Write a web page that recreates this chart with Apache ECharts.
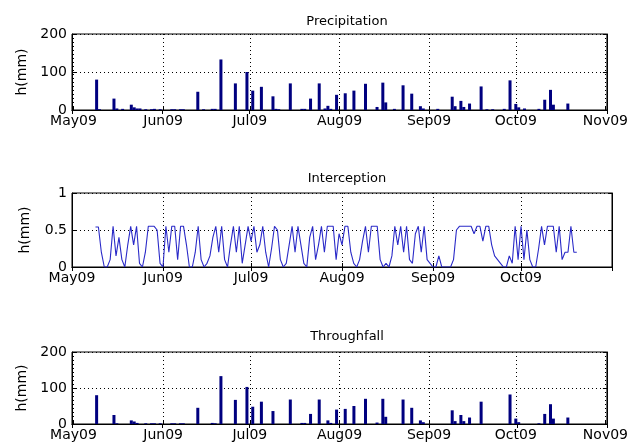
<!DOCTYPE html>
<html>
<head>
<meta charset="utf-8">
<script src="https://cdn.jsdelivr.net/npm/echarts@6/dist/echarts.min.js"></script>
<style>html,body{margin:0;padding:0;background:#fff}#c{width:631px;height:448px}</style>
</head>
<body>
<div id="c"></div>
<script>
// ---- data ----
const panelTitles = ['Precipitation', 'Interception', 'Throughfall'];
const yName = 'h(mm)';
const monthTickLabels = {4:'May09',5:'Jun09',6:'Jul09',7:'Aug09',8:'Sep09',9:'Oct09',10:'Nov09'};
const xMin = '2009-05-01';
const xMax = '2009-11-01';
const precipTicks = [0, 100, 200];
const interceptTicks = [0, 0.5, 1];

const precipDates = ['2009-05-09','2009-05-10','2009-05-15','2009-05-16','2009-05-18','2009-05-21','2009-05-22','2009-05-23','2009-05-24','2009-05-26','2009-05-28','2009-05-29','2009-05-31','2009-06-04','2009-06-05','2009-06-07','2009-06-08','2009-06-13','2009-06-15','2009-06-18','2009-06-19','2009-06-21','2009-06-26','2009-06-30','2009-07-02','2009-07-05','2009-07-09','2009-07-10','2009-07-11','2009-07-15','2009-07-19','2009-07-20','2009-07-22','2009-07-25','2009-07-27','2009-07-28','2009-07-29','2009-07-31','2009-08-03','2009-08-06','2009-08-10','2009-08-14','2009-08-16','2009-08-17','2009-08-20','2009-08-23','2009-08-26','2009-08-29','2009-08-30','2009-09-04','2009-09-09','2009-09-10','2009-09-12','2009-09-13','2009-09-15','2009-09-19','2009-09-21','2009-09-23','2009-09-27','2009-09-29','2009-10-01','2009-10-02','2009-10-04','2009-10-09','2009-10-11','2009-10-13','2009-10-14','2009-10-19'];
const precipValues = [80,2,30,4,3,14,7,4,4,2,2,3,2,2,2,2,2,48,2,3,3,133,70,100,51,61,36,3,2,70,3,3,30,70,4,11,3,40,44,51,69,8,72,20,3,65,43,10,4,3,35,10,24,8,17,62,2,2,3,78,16,7,4,3,27,53,14,17];

const throughDates = ['2009-05-09','2009-05-15','2009-05-16','2009-05-21','2009-05-22','2009-05-23','2009-05-26','2009-05-28','2009-05-29','2009-05-31','2009-06-04','2009-06-05','2009-06-07','2009-06-08','2009-06-13','2009-06-18','2009-06-19','2009-06-21','2009-06-26','2009-06-30','2009-07-02','2009-07-05','2009-07-09','2009-07-15','2009-07-19','2009-07-20','2009-07-22','2009-07-25','2009-07-28','2009-07-29','2009-07-31','2009-08-03','2009-08-06','2009-08-10','2009-08-14','2009-08-16','2009-08-17','2009-08-23','2009-08-26','2009-08-29','2009-08-30','2009-09-09','2009-09-10','2009-09-12','2009-09-13','2009-09-15','2009-09-19','2009-09-29','2009-10-01','2009-10-02','2009-10-09','2009-10-11','2009-10-13','2009-10-14','2009-10-19'];
const throughValues = [80,25,2,10,7,3,2,2,2,2,2,2,2,2,45,3,2,133,67,103,48,62,36,68,3,3,28,68,10,3,40,42,50,70,4,70,20,68,45,10,5,38,8,25,8,18,62,82,15,5,2,28,55,15,18];

const interceptStart = '2009-05-09';
const interceptValues = [
0.54,0.54,0.2,0,0,0.1,0.55,0.15,0.4,0.1,0,0.3,0.55,0.3,0.55,0.05,0,0.2,0.55,0.55,0.55,0.5,0.05,0,0.55,0.2,0.55,0.55,0.1,0.55,0.55,0.3,0,0,0.2,0.55,0.1,0,0.05,0.15,0.4,0.55,0.2,0.55,0.1,0,0.3,0.55,0.2,0.55,0.05,0.3,0.55,0.35,0.55,
0.2,0.3,0.55,0.2,0,0.25,0.55,0.5,0.1,0,0.05,0.3,0.55,0.2,0.55,0.3,0.05,0,0.4,0.55,0.1,0.3,0.55,0.2,0.55,0.55,0.55,0.1,0.45,0.3,0.55,0.55,0.2,0.05,0,0.1,0.35,0.55,0.2,0.55,0.55,0.55,0.1,0,0.05,0,0.15,0.55,0.3,0.55,0.2,0.55,0.1,0.05,0.45,0.55,0.2,0.55,0.1,
0.05,0,0,0.15,0,0,0,0,0.1,0.5,0.55,0.55,0.55,0.55,0.55,0.45,0.55,0.55,0.35,0.55,0.55,0.3,0.15,0.1,0.05,0,0,0.15,0.05,0.55,0.1,0.55,0.1,0.5,0.1,0,0,0.25,0.55,0.3,0.55,0.55,0.55,0.2,0.55,0.1,0.2,0.2,0.55,0.2,0.2];

// ---- build ----
const FONT = 'DejaVu Sans';
const DAY = 86400000;
function pairs(dates, vals){ return dates.map((d,i)=>[d, vals[i]]); }
function interceptData(){
  const t0 = echarts.time.parse(interceptStart).getTime();
  return interceptValues.map((v,i)=>[t0 + i*DAY, v]);
}
const grids = [
  {left:72, width:540, top:34, height:76},
  {left:72, width:540, top:193, height:74},
  {left:72, width:540, top:352, height:72}
];
const titleTops = [10, 167, 325];
const ticksets = [precipTicks, interceptTicks, precipTicks];

const xAxes = [], yAxes = [], titles = [];
grids.forEach((g,i)=>{
  g.show = true; g.borderColor = '#000'; g.borderWidth = 1; g.backgroundColor = '#fff';
  titles.push({text: panelTitles[i], left: 342, top: titleTops[i], textAlign: 'center',
    textStyle:{fontFamily:FONT, fontSize:13, fontWeight:'normal', color:'#000'}});
  xAxes.push({type:'time', gridIndex:i, position:'bottom', min:xMin, max:xMax,
    minInterval: 28*DAY, maxInterval: 31*DAY,
    axisLine:{lineStyle:{color:'#000', width:1}},
    axisTick:{inside:true, length:4, lineStyle:{color:'#000'}},
    axisLabel:{color:'#000', fontFamily:FONT, fontSize:14, margin:4, hideOverlap:false,
      formatter:function(v){ const d=new Date(v); return monthTickLabels[d.getMonth()] || ''; }},
    splitLine:{show:true, lineStyle:{type:[1,3], color:'#000', width:1}},
    minorTick:{show:false}});
  xAxes.push({type:'time', gridIndex:i, position:'top', min:xMin, max:xMax,
    minInterval: 28*DAY, maxInterval: 31*DAY,
    axisLine:{lineStyle:{color:'#000'}},
    axisTick:{inside:true, length:4, lineStyle:{color:'#000'}},
    axisLabel:{show:false}, splitLine:{show:false}});
  const tk = ticksets[i];
  yAxes.push({type:'value', gridIndex:i, position:'left', min:tk[0], max:tk[2], interval:tk[1]-tk[0],
    name: yName, nameLocation:'middle', nameGap:40, nameRotate:90,
    nameTextStyle:{fontFamily:FONT, fontSize:14, color:'#000'},
    axisLine:{show:true, lineStyle:{color:'#000'}},
    axisTick:{show:true, inside:true, length:4, lineStyle:{color:'#000'}},
    axisLabel:{color:'#000', fontFamily:FONT, fontSize:14, margin:5},
    splitLine:{show:true, lineStyle:{type:[1,3], color:'#000', width:1}}});
  yAxes.push({type:'value', gridIndex:i, position:'right', min:tk[0], max:tk[2], interval:tk[1]-tk[0],
    axisLine:{show:true, lineStyle:{color:'#000'}},
    axisTick:{show:true, inside:true, length:4, lineStyle:{color:'#000'}},
    axisLabel:{show:false}, splitLine:{show:false}});
});

const chart = echarts.init(document.getElementById('c'), null, {renderer:'canvas'});
chart.setOption({
  animation:false,
  backgroundColor:'#fff',
  title: titles,
  grid: grids,
  xAxis: xAxes,
  yAxis: yAxes,
  series: [
    {type:'bar', xAxisIndex:0, yAxisIndex:0, barWidth:3, itemStyle:{color:'#00007f'}, data: pairs(precipDates, precipValues)},
    {type:'line', xAxisIndex:2, yAxisIndex:2, showSymbol:false, symbol:'none', lineStyle:{color:'#2a2ac8', width:1.1}, data: interceptData()},
    {type:'bar', xAxisIndex:4, yAxisIndex:4, barWidth:3, itemStyle:{color:'#00007f'}, data: pairs(throughDates, throughValues)}
  ]
});
</script>
</body>
</html>
